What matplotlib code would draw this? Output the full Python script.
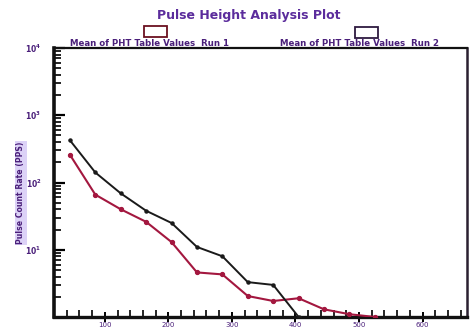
import matplotlib
matplotlib.use("Agg")
import matplotlib.pyplot as plt
from matplotlib.patches import Rectangle
from matplotlib.ticker import FixedLocator, MultipleLocator, LogLocator, NullFormatter

# Pulse height spectra: channel vs. count rate
channels_run1 = [45, 85, 125, 165, 205, 245, 285, 325, 365, 405]
counts_run1 = [425, 141, 69, 38, 25, 11, 8.0, 3.3, 3.0, 1.0]

channels_run2 = [45, 85, 125, 165, 205, 245, 285, 325, 365, 405, 445, 485, 525]
counts_run2 = [259, 66, 40, 26, 13, 4.6, 4.3, 2.05, 1.73, 1.9, 1.3, 1.1, 1.0]

x_major = [100, 200, 300, 400, 500, 600]
x_labels = ["100", "200", "300", "400", "500", "600"]
y_major = [1e1, 1e2, 1e3, 1e4]
y_labels = [r"$\mathbf{10^1}$", r"$\mathbf{10^2}$", r"$\mathbf{10^3}$", r"$\mathbf{10^4}$"]

title = "Pulse Height Analysis Plot"
legend_run1 = "Mean of PHT Table Values  Run 1"
legend_run2 = "Mean of PHT Table Values  Run 2"
y_title = "Pulse Count Rate (PPS)"

PURPLE = "#4a1f7a"
RED = "#a3173f"
BLACK = "#1a1a1a"

W, H = 471, 331
fig = plt.figure(figsize=(W / 100, H / 100), dpi=100)
ax = fig.add_axes([54 / W, 1 - 317 / H, (467 - 54) / W, (317 - 48) / H])

ax.plot(channels_run2, counts_run2, color=RED, lw=1.5, marker="o", ms=2.8,
        mec=RED, mfc=RED, zorder=3, clip_on=True)
ax.plot(channels_run1, counts_run1, color=BLACK, lw=1.4, marker="o", ms=2.2,
        mec=BLACK, mfc=BLACK, zorder=4, clip_on=True)

ax.set_yscale("log")
ax.set_ylim(1, 1e4)
ax.set_xlim(20, 670)

ax.yaxis.set_major_locator(FixedLocator(y_major))
ax.set_yticklabels(y_labels)
ax.yaxis.set_minor_locator(LogLocator(base=10, subs=range(2, 10)))
ax.yaxis.set_minor_formatter(NullFormatter())

ax.xaxis.set_major_locator(FixedLocator(x_major))
ax.set_xticklabels(x_labels)
ax.xaxis.set_minor_locator(MultipleLocator(20))

ax.tick_params(axis="y", which="major", direction="in", length=8, width=1.6,
               labelsize=5.5, labelcolor=PURPLE, pad=9)
ax.tick_params(axis="y", which="minor", direction="in", length=5, width=1.2)
ax.tick_params(axis="x", which="major", direction="inout", length=7, width=1.4,
               labelsize=5, labelcolor=PURPLE, pad=0)
ax.tick_params(axis="x", which="minor", direction="in", length=5, width=1.2)

for side, lw in (("left", 2.6), ("bottom", 2.4), ("top", 1.6), ("right", 1.8)):
    ax.spines[side].set_linewidth(lw)
    ax.spines[side].set_color("#111111")
ax.spines["right"].set_color("#2a2030")

fig.text(249 / W, 1 - 15 / H, title, ha="center", va="center", color="#5b2c9c",
         fontsize=9, fontweight="bold")

fig.text(70 / W, 1 - 44 / H, legend_run1, ha="left", va="center", color=PURPLE,
         fontsize=6.2, fontweight="bold")
fig.text(280 / W, 1 - 44 / H, legend_run2, ha="left", va="center", color=PURPLE,
         fontsize=6.2, fontweight="bold")
fig.patches.append(Rectangle((144 / W, 1 - 37 / H), 23 / W, 11 / H, fill=False,
                             ec="#6b1020", lw=1.3, transform=fig.transFigure))
fig.patches.append(Rectangle((355 / W, 1 - 38 / H), 23 / W, 11 / H, fill=False,
                             ec="#2e1a40", lw=1.3, transform=fig.transFigure))

fig.text(21 / W, 1 - 193 / H, y_title, ha="center", va="center", rotation=90,
         color=PURPLE, fontsize=5.6, fontweight="bold",
         bbox=dict(boxstyle="square,pad=0.15", fc="#dcd2f7", ec="none"))

fig.savefig("out.png", dpi=100, facecolor="white")
